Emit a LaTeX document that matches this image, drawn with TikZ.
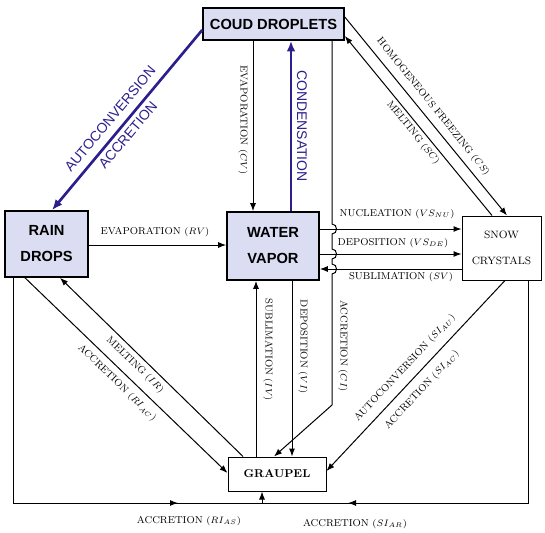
\documentclass[tikz,border=0pt]{standalone}
\usepackage{fontspec}
\newfontfamily\boxfont{Liberation Sans}
\usetikzlibrary{arrows.meta}
\definecolor{procblue}{RGB}{44,30,140}
\definecolor{boxfill}{RGB}{219,222,242}
\tikzset{every picture/.style={line width=0.75pt}}
\tikzset{
  catbox/.style={draw, line width=1.2, fill=boxfill, inner sep=0pt, align=center,
    font=\boxfont\bfseries\fontsize{11}{19.5}\selectfont},
  plainbox/.style={draw, inner sep=0pt, align=center},
  arr/.style={-{Latex[length=6pt,width=4.5pt]}},
  bluearr/.style={draw=procblue, line width=2, -{Latex[length=8pt,width=6.5pt]}},
  lbl/.style={inner sep=0.75pt, font=\fontsize{7.5}{9}\selectfont},
  bluelbl/.style={inner sep=0.75pt, text=procblue, font=\boxfont\fontsize{10.5}{12}\selectfont},
}

\begin{document}
\begin{tikzpicture}[x=0.75pt,y=0.75pt,yscale=-1,xscale=1]
\useasboundingbox (0,0) rectangle (545,532);

%Shape: Rectangle [cloud]
\node[catbox, minimum width=105.75pt, minimum height=24pt] (cloud) at (273.5,24) {COUD DROPLETS};
%Shape: Rectangle [rain]
\node[catbox, minimum width=62.25pt, minimum height=49.5pt] (rain) at (46.5,244) {RAIN\\DROPS};
%Shape: Rectangle [vapor]
\node[catbox, minimum width=69pt, minimum height=51pt] (vapor) at (273,246) {WATER\\VAPOR};
%Shape: Rectangle [snow]
\node[plainbox, minimum width=59.25pt, minimum height=48pt, font=\fontsize{8}{19.5}\selectfont] (snow) at (501.5,248) {SNOW\\CRYSTALS};
%Shape: Rectangle [graupel]
\node[plainbox, minimum width=73.5pt, minimum height=25.5pt, font=\bfseries\fontsize{8.5}{10}\selectfont] (graupel) at (277,474) {GRAUPEL};

%Straight Lines [blue]
\draw[bluearr] (cloud.west |- 0,30) -- (rain.north -| 52,0);
\draw[bluearr] (vapor.north -| 291,0) -- (cloud.south -| 291,0);
%Straight Lines [cloud - vapor - graupel]
\draw[arr] (cloud.south -| 253,0) -- (vapor.north -| 253,0);
\draw[arr] (cloud.south -| 332,0) -- (332,224) .. controls (338,224) and (338,234) .. (332,234)
  -- (332,249) .. controls (338,249) and (338,259) .. (332,259)
  -- (332,264) .. controls (338,264) and (338,274) .. (332,274)
  -- (332,405) -- (graupel.north -| 274,0);
\draw[arr] (graupel.north -| 256,0) -- (vapor.south -| 256,0);
\draw[arr] (vapor.south -| 292,0) -- (graupel.north -| 292,0);
%Straight Lines [horizontal]
\draw[arr] (rain.east |- 0,245) -- (vapor.west |- 0,245);
\draw[arr] (vapor.east |- 0,229) -- (snow.west |- 0,229);
\draw[arr] (vapor.east |- 0,254) -- (snow.west |- 0,254);
\draw[arr] (snow.west |- 0,269) -- (vapor.east |- 0,269);
%Straight Lines [diagonal]
\draw[arr] (cloud.east |- 0,17) -- (snow.north -| 507,0);
\draw[arr] (snow.north -| 492,0) -- (cloud.east |- 0,36);
\draw[arr] (graupel.north -| 243,0) -- (rain.south -| 60,0);
\draw[arr] (rain.south -| 25,0) -- (graupel.west |- 0,473);
\draw[arr] (snow.south -| 505,0) -- (graupel.east |- 0,471);
%Straight Lines [bottom loop]
\coordinate (botleft) at (13,503);
\coordinate (botright) at (528,503);
\coordinate (botjoin) at (262,503);
\draw (rain.south -| botleft) -- (botleft) -- (botright) -- (snow.south -| botright);
\draw[arr] (botleft) -- (178,503);
\draw[arr] (botright) -- (348,503);
\draw[arr] (botjoin) -- (graupel.south -| botjoin);

% Text Node
\node[bluelbl, rotate=50] (lblauto) at (110,119) {AUTOCONVERSION};
% Text Node
\node[bluelbl, rotate=50] (lblacc) at (128,135) {ACCRETION};
% Text Node
\node[bluelbl, rotate=-90] (lblcond) at (302,126) {CONDENSATION};
% Text Node
\node[lbl, rotate=-90] (lblcv) at (243,120) {EVAPORATION $(CV)$};
% Text Node
\node[lbl, rotate=-51] (lblcs) at (433,107) {HOMOGENEOUS FREEZING $(CS)$};
% Text Node
\node[lbl, rotate=-51] (lblsc) at (413,133) {MELTING $(SC)$};
% Text Node
\node[lbl] (lblrv) at (155,232) {EVAPORATION $(RV)$};
% Text Node
\node[lbl] (lblnu) at (397,214) {NUCLEATION $(VS_{NU})$};
% Text Node
\node[lbl] (lblde) at (393,243) {DEPOSITION $(VS_{DE})$};
% Text Node
\node[lbl] (lblsv) at (401,277) {SUBLIMATION $(SV)$};
% Text Node
\node[lbl, rotate=-90] (lbliv) at (268,350) {SUBLIMATION $(IV)$};
% Text Node
\node[lbl, rotate=-90] (lblvi) at (303,347) {DEPOSITION $(VI)$};
% Text Node
\node[lbl, rotate=-90] (lblci) at (343,346) {ACCRETION $(CI)$};
% Text Node
\node[lbl, rotate=-44] (lblir) at (135,365) {MELTING $(IR)$};
% Text Node
\node[lbl, rotate=-44] (lblriac) at (117,383) {ACCRETION $(RI_{AC})$};
% Text Node
\node[lbl, rotate=47] (lblsiau) at (405,368) {AUTOCONVERSION $(SI_{AU})$};
% Text Node
\node[lbl, rotate=47] (lblsiac) at (422,390) {ACCRETION $(SI_{AC})$};
% Text Node
\node[lbl] (lblrias) at (189,521) {ACCRETION $(RI_{AS})$};
% Text Node
\node[lbl] (lblsiar) at (355,524) {ACCRETION $(SI_{AR})$};

\end{tikzpicture}
\end{document}
